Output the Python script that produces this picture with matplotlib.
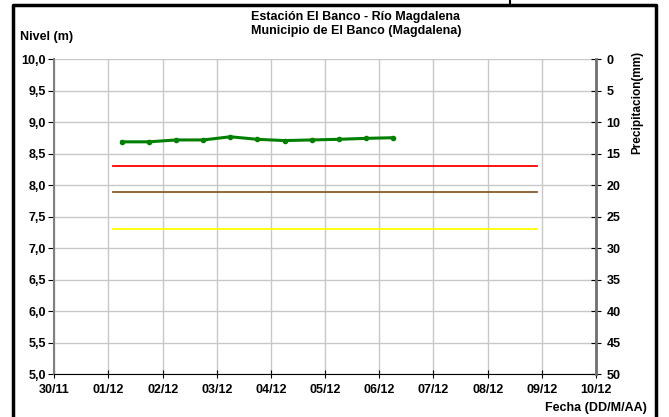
#!/usr/bin/env python3
# Nivel del rio Magdalena en la estacion El Banco, con umbrales de alerta.

import datetime as dt
import matplotlib as mpl
import matplotlib.pyplot as plt
import matplotlib.dates as mdates

mpl.rcParams["font.family"] = ["Liberation Sans", "DejaVu Sans"]
mpl.rcParams["font.weight"] = "bold"

# Lecturas de nivel (dos por dia, 06:00 y 18:00).
FECHAS = [
    "2011-12-01 06:00", "2011-12-01 18:00", "2011-12-02 06:00", "2011-12-02 18:00",
    "2011-12-03 06:00", "2011-12-03 18:00", "2011-12-04 06:00", "2011-12-04 18:00",
    "2011-12-05 06:00", "2011-12-05 18:00", "2011-12-06 06:00",
]
NIVEL = [8.69, 8.69, 8.72, 8.72, 8.77, 8.73, 8.71, 8.72, 8.73, 8.745, 8.755]

# Umbrales (m) y su tramo en el tiempo.
UMBRAL_INICIO = "2011-12-01 02:00"
UMBRAL_FIN = "2011-12-08 22:00"
UMBRAL_ROJO = 8.3
UMBRAL_NARANJA = 7.9
UMBRAL_AMARILLO = 7.3

X_INICIO = "2011-11-30"
X_FIN = "2011-12-10"

FS = 9


def fecha(s):
    return dt.datetime.fromisoformat(s)


def main():
    fig = plt.figure(figsize=(6.69, 4.17), dpi=100)
    ax = fig.add_axes([54.3 / 669, 1 - 374.3 / 417, (596 - 54.3) / 669, (374.3 - 59.3) / 417])

    x = [fecha(s) for s in FECHAS]
    xu = [fecha(UMBRAL_INICIO), fecha(UMBRAL_FIN)]
    ax.plot(xu, [UMBRAL_ROJO] * 2, color="#ff0000", lw=1.3, zorder=3)
    ax.plot(xu, [UMBRAL_NARANJA] * 2, color="#8a5a2b", lw=1.3, zorder=3)
    ax.plot(xu, [UMBRAL_AMARILLO] * 2, color="#ffff00", lw=1.3, zorder=3)
    ax.plot(x, NIVEL, color="#008000", lw=2.2, marker="o", ms=3, zorder=4)

    ax.set_xlim(fecha(X_INICIO), fecha(X_FIN))
    ax.xaxis.set_major_locator(mdates.DayLocator())
    ax.xaxis.set_major_formatter(mdates.DateFormatter("%d/%m"))
    ax.set_ylim(5, 10)
    ax.set_yticks([5 + 0.5 * i for i in range(11)])
    ax.set_yticklabels([f"{5 + 0.5 * i:.1f}".replace(".", ",") for i in range(11)])
    ax.grid(True, color="#c8c8c8", lw=1)
    ax.set_axisbelow(True)

    for s in ["top", "right"]:
        ax.spines[s].set_visible(False)
    ax.spines["left"].set_color("#808080")
    ax.spines["left"].set_linewidth(1.5)
    ax.spines["bottom"].set_color("black")
    ax.tick_params(axis="y", direction="out", length=4, labelsize=FS, pad=2)
    ax.tick_params(axis="x", direction="inout", length=6, labelsize=FS, pad=4)

    ax2 = ax.twinx()
    ax2.set_ylim(50, 0)
    ax2.set_yticks(range(0, 51, 5))
    for s in ["top", "left", "bottom"]:
        ax2.spines[s].set_visible(False)
    ax2.spines["right"].set_color("#707070")
    ax2.spines["right"].set_linewidth(2)
    ax2.tick_params(axis="y", direction="inout", length=7, labelsize=FS, pad=4)

    fig.text(0.532, 1 - 11 / 417, "Estación El Banco - Río Magdalena\nMunicipio de El Banco (Magdalena)",
             ha="center", va="top", fontsize=FS, fontweight="bold", linespacing=1.2)
    fig.text(20 / 669, 1 - 37 / 417, "Nivel (m)", ha="left", va="center",
             fontsize=FS, fontweight="bold")
    fig.text(647 / 669, 1 - 408 / 417, "Fecha (DD/M/AA)", ha="right", va="center",
             fontsize=FS, fontweight="bold")
    fig.text(637 / 669, 1 - 102 / 417, "Precipitacion(mm)", ha="center", va="center",
             rotation=90, fontsize=8.5, fontweight="bold")

    # Marco exterior.
    fig.add_artist(mpl.lines.Line2D([13 / 669, 13 / 669, 656 / 669, 656 / 669],
                                    [0, 1 - 5 / 417, 1 - 5 / 417, 0],
                                    color="black", lw=2.5, transform=fig.transFigure))
    fig.add_artist(mpl.lines.Line2D([510 / 669, 510 / 669], [1 - 5 / 417, 1],
                                    color="black", lw=1.5, transform=fig.transFigure))

    fig.savefig("out.png", dpi=100)


if __name__ == "__main__":
    main()
